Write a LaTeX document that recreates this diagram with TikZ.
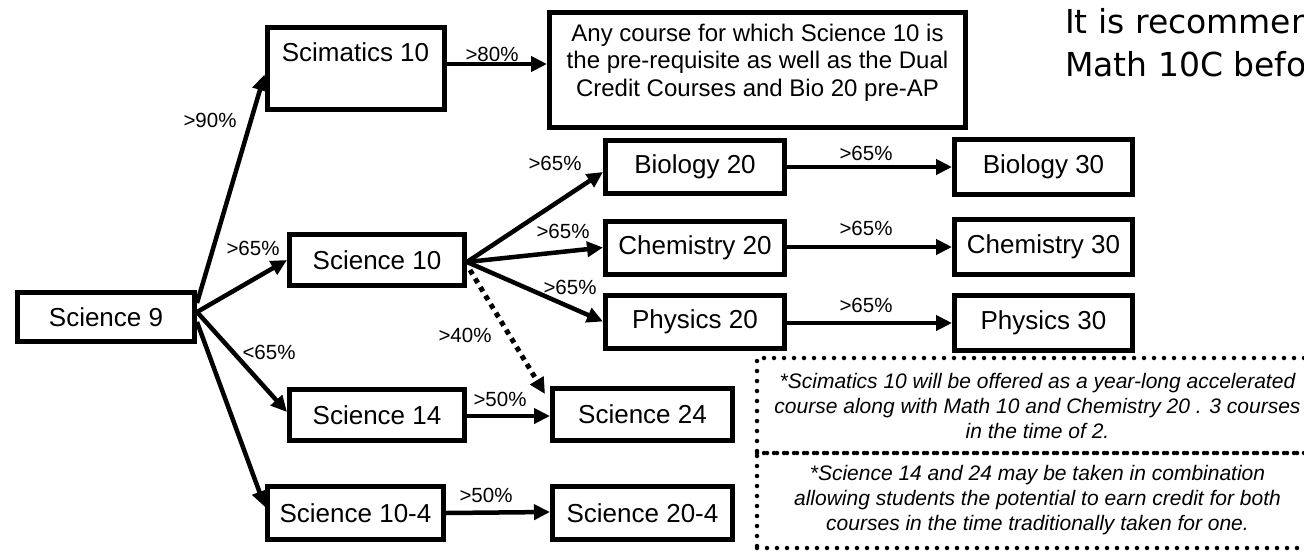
\documentclass[tikz,border=0pt]{standalone}
\usepackage{fontspec}
\setmainfont{Liberation Sans}
\newfontfamily\titlefont{DejaVu Sans}
\usetikzlibrary{arrows.meta,calc}
\tikzset{
 course/.style={draw, line width=5pt, rectangle, inner sep=0pt, font=\fontsize{26}{30}\selectfont},
 arr/.style={line width=4.5pt, -{Triangle[length=16pt,width=15pt]}},
 dotarr/.style={line width=5pt, dash pattern=on 5pt off 5pt, -{Triangle[length=16pt,width=15pt]}},
 lbl/.style={font=\fontsize{20.5}{24}\selectfont, inner sep=0pt},
 notebox/.style={draw, line width=4.5pt, dash pattern=on 0pt off 10pt, line cap=round, rectangle, inner sep=0pt, font=\fontsize{21}{25}\itshape\selectfont, align=center},
 titletext/.style={anchor=base west, inner sep=0pt, font=\titlefont\fontsize{33}{40}\selectfont},
}
\begin{document}
\begin{tikzpicture}[x=1pt,y=-1pt]
\useasboundingbox (0,0) rectangle (1304,555);
\fill[white] (0,0) rectangle (1304,555);

% course boxes
\node[course, minimum width=177pt, minimum height=49pt] (s9) at (106,317) {Science 9};
\node[course, minimum width=177pt, text height=34pt, text depth=48pt] (sci) at (355.5,68.5) {Scimatics 10};
\node[course, minimum width=416pt, minimum height=115pt] (big) at (757.5,70) {};
\node[inner sep=0pt, align=center, font=\fontsize{24}{27.5}\selectfont] (bigtext) at (757.5,62.5)
  {Any course for which Science 10 is\\the pre-requisite as well as the Dual\\Credit Courses and Bio 20 pre-AP};
\node[course, minimum width=175pt, minimum height=51pt] (s10) at (377,260) {Science 10};
\node[course, minimum width=179pt, minimum height=53pt] (bio20) at (695,167) {Biology 20};
\node[course, minimum width=179pt, minimum height=53pt] (chem20) at (695,247.5) {Chemistry 20};
\node[course, minimum width=179pt, minimum height=53pt] (phy20) at (695,321.5) {Physics 20};
\node[course, minimum width=178pt, minimum height=55pt] (bio30) at (1043.5,167) {Biology 30};
\node[course, minimum width=178pt, minimum height=55pt] (chem30) at (1043.5,247) {Chemistry 30};
\node[course, minimum width=178pt, minimum height=55pt] (phy30) at (1043.5,322.5) {Physics 30};
\node[course, minimum width=175pt, minimum height=51pt] (s14) at (377,415) {Science 14};
\node[course, minimum width=180pt, minimum height=52pt] (s24) at (642.5,414.5) {Science 24};
\node[course, minimum width=176pt, minimum height=53pt] (s104) at (355.5,513) {Science 10-4};
\node[course, minimum width=180pt, minimum height=53pt] (s204) at (642.5,513) {Science 20-4};

% notes
\node[notebox, minimum width=561pt, minimum height=95pt] (note1) at (1037.5,405.5)
  {*Scimatics 10 will be offered as a year-long accelerated\\course along with Math 10 and Chemistry 20 . 3 courses\\in the time of 2.};
\node[notebox, minimum width=561pt, minimum height=95pt] (note2) at (1037.5,500.5)
  {*Science 14 and 24 may be taken in combination\\allowing students the potential to earn credit for both\\courses in the time traditionally taken for one.};

% title
\node[titletext] (title1) at (1065,33) {It is recommen};
\node[titletext] (title2) at (1065,76) {Math 10C befo};

% connectors
\coordinate (f9) at ($(s9.east)+(0,-5)$);
\coordinate (f10) at ($(s10.east)+(0,2)$);
\draw[arr] ($(s9.east)+(0,-14)$) -- ($(sci.west)+(0,6)$);
\draw[arr] (f9) -- (s10.west);
\draw[arr] (f9) -- ($(s14.west)+(0,-3)$);
\draw[arr] ($(s9.east)+(0,5)$) -- ($(s104.west)+(0,-6)$);
\draw[arr] ($(sci.east)+(0,-4.5)$) -- ($(big.west)+(0,-6)$);
\draw[arr] (f10) -- ($(bio20.west)+(0,5)$);
\draw[arr] (f10) -- (chem20.west);
\draw[arr] (f10) -- (phy20.west);
\draw[dotarr] ($(s10.east)+(3,10)$) -- ($(s24.north west)+(-5,8)$);
\draw[arr] ($(s14.east)+(0,1)$) -- ($(s24.west)+(0,1.5)$);
\draw[arr] (s104.east) -- ($(s204.west)+(0,-1)$);
\draw[arr] (bio20.east) -- (bio30.west);
\draw[arr] ($(chem20.east)+(0,-0.5)$) -- (chem30.west);
\draw[arr] ($(phy20.east)+(0,1.5)$) -- ($(phy30.west)+(0,0.5)$);

% labels
\node[lbl] (l90) at (210,120) {>90\%};
\node[lbl] (l65a) at (253,248) {>65\%};
\node[lbl] (l65b) at (269,352) {<65\%};
\node[lbl] (l80) at (492,54) {>80\%};
\node[lbl] (l65c) at (555,163) {>65\%};
\node[lbl] (l65d) at (563,231) {>65\%};
\node[lbl] (l65e) at (570,287) {>65\%};
\node[lbl] (l40) at (465,335) {>40\%};
\node[lbl] (l50a) at (500,399) {>50\%};
\node[lbl] (l50b) at (486,495) {>50\%};
\node[lbl] (l65f) at (866,153) {>65\%};
\node[lbl] (l65g) at (866,228) {>65\%};
\node[lbl] (l65h) at (866,305) {>65\%};
\end{tikzpicture}
\end{document}
